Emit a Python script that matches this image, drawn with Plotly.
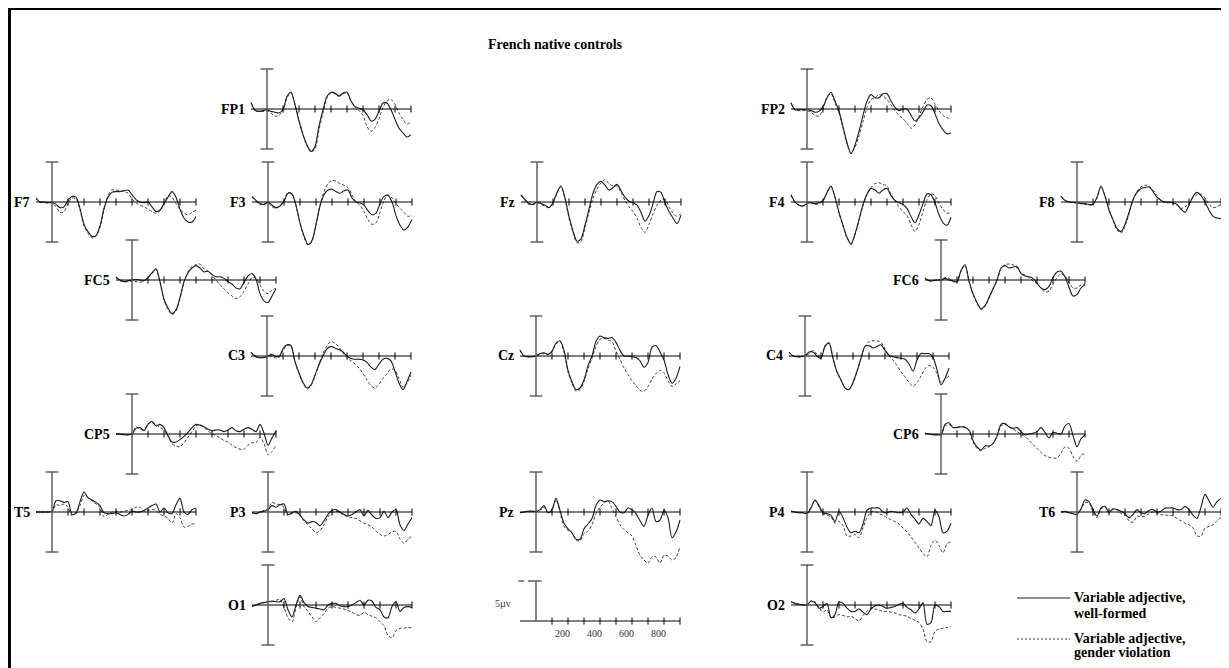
import plotly.graph_objects as go

# screen page is 1229x668; the html body has an 8px margin, so the figure is drawn 8px in
SCREEN_W, SCREEN_H = 1229, 668
OFF = 8
W, H = SCREEN_W - OFF, SCREEN_H - OFF

# time axis (ms) shared by all electrodes
TIMES = list(range(-100, 901, 25))

# amplitudes in microvolts (negative plotted up, ERP convention)
FP1_wf = [-0.8,0.15,0.3,0.2,0.1,0.3,0.4,0.5,0.1,-1.6,-2.1,-0.5,1.5,3.2,4.5,5.3,4.7,2.1,0.1,-1.6,-2.1,-2.0,-1.6,-2.0,-2.1,-1.0,-0.3,-0.1,0.1,0.7,1.5,1.3,0.3,-0.75,-0.75,0.1,1.3,2.4,3.0,3.5,3.2]
FP1_gv = [-0.8,0.1,0.3,0.3,0.2,0.5,0.9,0.8,0.2,-1.4,-2.0,-0.6,1.4,3.2,4.6,5.4,5.0,2.6,0.5,-1.4,-2.0,-1.9,-1.7,-1.9,-2.0,-1.0,-0.3,0.2,0.8,2.2,2.8,2.3,1.2,-0.2,-1.0,-1.2,-0.6,0.5,1.3,1.9,1.6]
FP2_wf = [-0.8,0.1,0.1,0.1,0.1,0.2,0.4,0.3,-0.3,-1.4,-2.1,-1.0,0.3,2.2,4.2,5.6,4.5,2.8,0.8,-1.0,-1.8,-1.4,-1.4,-1.9,-1.9,-1.0,-0.2,0.2,0.0,0.0,0.8,1.5,1.1,0.4,-0.5,-0.4,0.6,1.8,2.6,3.1,3.0]
FP2_gv = [-0.7,0.1,0.2,0.2,0.2,0.4,0.8,0.9,0.0,-1.5,-1.9,-0.8,0.5,2.4,4.4,5.5,4.8,3.3,1.6,-0.2,-1.2,-1.4,-1.8,-1.6,-1.2,-0.5,0.2,0.8,1.2,1.8,2.4,2.0,0.9,-0.3,-1.2,-1.4,-0.6,0.2,0.8,1.1,1.2]
F7_wf = [-0.5,0.0,0.0,0.1,0.05,0.3,0.7,0.6,-0.2,-0.7,-0.6,0.8,2.8,3.7,4.3,4.2,3.0,0.8,-0.6,-1.2,-1.3,-1.3,-1.4,-1.5,-0.9,-0.3,0.0,0.1,0.0,0.6,1.2,1.0,0.2,-0.6,-1.3,-0.6,0.9,2.0,2.5,2.5,1.8]
F7_gv = [-0.4,0.0,0.1,0.1,0.1,0.6,1.3,1.2,0.2,-0.5,-0.4,1.0,3.0,3.9,4.5,4.3,3.2,1.0,-0.8,-1.5,-1.5,-1.4,-1.3,-1.1,-0.4,0.1,0.4,0.6,0.9,1.2,1.4,1.1,0.2,-0.8,-0.6,0.2,0.9,1.4,1.6,1.3,1.0]
F3_wf = [-0.7,-0.2,0.2,0.3,0.0,0.4,0.7,0.5,-0.1,-1.1,-1.0,0.4,2.6,4.2,5.3,4.8,2.8,0.5,-0.9,-1.5,-1.6,-1.3,-1.1,-1.4,-1.5,-0.5,0.0,0.1,0.4,1.1,1.6,1.4,0.2,-0.7,-0.8,0.0,1.7,2.9,3.5,3.1,2.2]
F3_gv = [-0.6,-0.1,0.3,0.3,0.1,0.6,0.8,0.5,-0.2,-1.2,-1.0,0.5,2.7,4.4,5.4,4.9,2.9,0.4,-1.3,-2.3,-2.7,-2.6,-2.3,-2.1,-1.8,-0.9,0.0,0.4,1.2,2.2,2.8,2.6,1.3,-0.2,-0.9,-0.5,0.2,0.8,1.3,1.8,1.6]
Fz_wf = [-0.9,-0.3,0.2,0.3,0.0,0.2,0.4,0.7,0.1,-1.2,-2.0,-0.5,1.8,3.6,4.9,4.6,2.9,0.9,-1.1,-2.2,-2.6,-2.1,-1.5,-1.8,-2.2,-1.4,-0.6,-0.1,0.1,0.4,1.3,2.4,1.7,0.2,-1.3,-1.2,0.1,1.2,2.0,2.7,1.6]
Fz_gv = [-0.8,-0.2,0.3,0.3,0.1,0.3,0.5,0.7,0.1,-1.1,-1.9,-0.4,2.0,3.8,5.1,4.9,3.2,1.3,-0.5,-1.6,-2.4,-2.8,-2.3,-2.0,-2.0,-1.2,-0.2,0.6,1.2,2.0,3.2,3.8,2.8,1.5,0.4,-0.2,-0.3,0.6,1.4,1.8,1.4]
F4_wf = [-0.9,0.0,0.4,0.5,0.2,0.1,0.2,0.1,-0.2,-1.2,-2.0,-0.6,1.3,2.9,4.4,5.3,4.0,2.2,0.3,-1.0,-1.7,-1.5,-1.1,-1.5,-1.7,-0.8,-0.2,0.1,0.3,0.8,1.8,2.6,1.6,0.2,-1.0,-0.9,0.1,1.6,2.6,2.9,1.9]
F4_gv = [-0.8,0.0,0.4,0.5,0.2,0.1,0.3,0.2,-0.1,-1.1,-1.9,-0.5,1.4,3.0,4.5,5.2,4.1,2.3,0.5,-0.9,-1.8,-2.3,-2.4,-2.2,-2.0,-1.0,-0.1,0.6,1.2,1.7,2.8,3.7,2.8,1.2,-0.3,-1.0,-0.8,0.2,0.9,1.4,1.3]
F8_wf = [-0.7,-0.2,0.0,0.05,0.1,0.2,0.2,0.3,0.3,-0.6,-2.0,-0.7,1.0,2.2,3.3,3.7,2.8,1.3,-0.3,-1.2,-1.7,-1.8,-1.9,-1.3,-0.6,-0.2,0.0,0.0,0.1,0.3,0.9,1.3,0.4,-0.7,-1.2,-0.8,0.0,1.0,1.8,2.0,2.1]
F8_gv = [-0.7,-0.2,0.0,0.1,0.1,0.2,0.3,0.4,0.3,-0.5,-1.9,-0.8,0.9,2.3,3.5,3.9,3.0,1.5,-0.2,-1.3,-1.9,-2.1,-2.0,-1.5,-0.8,-0.2,0.1,0.1,0.2,0.4,0.8,0.6,0.2,-0.5,-0.9,-1.0,-0.5,0.3,0.7,0.6,0.3]
FC5_wf = [-0.4,0.0,0.2,0.1,0.0,-0.1,0.0,0.1,-0.3,-0.9,-1.4,0.2,2.4,3.5,4.2,3.7,2.2,0.2,-0.9,-1.5,-1.8,-1.5,-1.0,-1.1,-0.7,-0.4,-0.4,-0.2,0.2,0.5,1.0,1.1,0.3,-0.5,-0.8,-0.1,1.7,2.6,2.8,2.0,1.1]
FC5_gv = [-0.3,0.1,0.2,0.2,0.1,0.2,0.3,0.1,-0.3,-0.8,-1.3,0.3,2.5,3.7,4.3,3.9,2.3,0.3,-1.0,-1.7,-1.9,-2.0,-1.4,-1.1,-0.6,0.0,0.6,1.1,1.6,2.0,2.3,2.1,1.4,0.5,-0.3,-0.2,0.6,1.4,1.7,1.3,1.0]
FC6_wf = [-0.2,0.1,0.1,0.0,0.0,-0.2,0.0,0.1,0.2,-1.2,-1.9,0.1,1.7,2.8,3.6,3.2,2.2,1.1,0.0,-1.5,-1.8,-1.5,-1.6,-1.7,-0.8,-0.5,-0.4,-0.2,0.4,1.0,1.2,0.8,-0.3,-1.0,-1.1,-0.4,0.9,2.0,1.8,1.0,0.6]
FC6_gv = [-0.3,0.1,0.1,0.0,0.0,-0.3,-0.2,0.2,0.3,-1.1,-1.8,0.2,1.8,2.9,3.7,3.3,2.3,1.2,0.1,-1.4,-1.9,-2.0,-1.9,-1.5,-0.9,-0.6,-0.3,0.1,0.5,1.0,1.5,1.4,0.5,-0.3,-0.8,-0.5,0.3,1.0,1.0,0.6,0.5]
C3_wf = [-0.5,0.0,0.2,0.2,0.1,-0.2,0.0,0.1,-0.9,-1.4,-1.3,0.7,2.1,3.3,4.0,3.6,2.4,1.1,0.0,-0.9,-1.2,-1.0,-0.8,-0.5,0.0,0.3,0.4,0.4,0.5,0.8,1.4,1.7,1.0,0.4,0.3,0.6,1.9,3.4,4.2,3.2,2.0]
C3_gv = [-0.4,0.1,0.2,0.2,0.1,0.0,0.2,0.2,-0.7,-1.3,-1.2,0.8,2.2,3.4,4.1,3.7,2.5,1.0,-0.3,-1.3,-1.8,-1.6,-1.1,-0.4,0.2,0.6,1.0,1.5,2.2,3.0,3.7,4.0,3.5,2.8,2.2,1.6,1.8,2.8,3.9,3.4,2.4]
Cz_wf = [-0.75,0.0,0.1,0.1,0.0,-0.3,-0.4,-0.2,-0.6,-1.6,-1.9,-0.7,1.8,3.2,4.2,4.0,3.0,1.2,0.0,-1.8,-2.5,-2.3,-2.2,-2.3,-1.7,-0.7,0.0,0.0,0.1,0.2,0.6,1.4,0.8,-1.1,-1.3,-0.5,0.5,2.3,3.4,2.8,1.3]
Cz_gv = [-0.7,0.0,0.1,0.1,0.0,-0.2,-0.3,-0.2,-0.5,-1.5,-1.8,-0.5,2.0,3.4,4.4,4.2,3.2,1.6,0.3,-1.2,-2.1,-2.2,-2.0,-1.8,-0.6,0.4,1.5,2.3,3.1,3.7,4.3,4.4,3.8,2.9,2.2,1.8,2.1,3.1,3.8,3.5,3.1]
C4_wf = [-0.5,0.0,0.1,0.1,0.0,-0.5,-0.5,0.0,0.3,-1.2,-1.6,0.3,2.0,3.0,4.0,4.2,3.3,1.9,0.3,-1.2,-1.3,-1.0,-1.2,-1.4,-0.7,-0.1,0.1,0.2,0.3,0.4,1.0,1.9,0.5,-0.3,-0.3,-0.3,0.2,1.7,3.6,2.8,1.5]
C4_gv = [-0.5,0.0,0.1,0.1,0.0,-0.3,-0.7,-0.2,0.2,-1.3,-1.7,0.3,2.0,3.0,4.0,4.2,3.4,2.0,0.3,-1.2,-1.8,-1.9,-1.9,-1.7,-0.9,0.0,0.5,1.2,2.0,2.6,3.3,3.8,3.3,2.5,1.6,1.2,1.4,2.2,3.3,2.9,2.5]
CP5_wf = [0.0,0.0,0.1,0.1,0.0,-0.7,-0.8,-0.4,-1.2,-1.6,-1.0,-1.2,-0.8,0.2,1.0,1.0,0.7,0.3,-0.2,-0.8,-1.2,-1.1,-0.9,-0.6,-0.4,-0.5,-0.5,-0.3,-0.5,-0.8,-0.4,-0.3,-0.6,-0.8,-0.6,-0.3,-1.2,-0.1,1.4,0.5,-0.4]
CP5_gv = [0.0,0.0,0.1,0.1,0.0,-0.9,-0.6,-0.5,-1.3,-1.4,-1.2,-0.8,-0.5,0.3,1.2,1.5,1.6,1.1,0.4,-0.3,-1.0,-1.2,-0.8,-0.4,0.0,0.2,0.5,0.8,1.0,1.4,1.7,1.9,1.9,1.4,1.1,1.1,0.4,1.2,2.6,2.2,1.4]
CP6_wf = [-0.1,0.0,0.1,0.1,0.1,-1.2,-1.4,-0.8,-0.8,-0.9,-0.8,-0.5,0.8,1.6,2.0,1.5,1.5,1.2,0.3,-1.2,-1.3,-0.9,-0.7,-0.8,-0.3,0.1,0.0,-0.1,-0.3,-0.8,-0.2,0.5,-0.2,-0.1,0.0,-1.0,-1.3,0.2,1.6,0.6,0.1]
CP6_gv = [-0.1,0.0,0.1,0.1,0.1,-1.0,-1.2,-0.8,-0.9,-0.9,-0.9,-0.4,1.0,1.8,2.1,1.8,1.6,1.2,0.2,-1.0,-1.2,-0.9,-0.6,-0.3,0.0,0.3,0.8,1.3,1.8,2.3,2.7,2.9,3.0,3.0,2.4,1.6,1.8,2.8,3.4,2.7,2.4]
T5_wf = [0.0,0.0,0.0,0.0,-0.1,-1.4,-1.4,-1.2,-1.3,0.3,0.2,-1.3,-2.5,-1.8,-1.5,-1.2,-0.8,0.1,0.2,0.2,0.1,0.3,0.5,0.3,-0.1,0.0,0.0,-0.2,-0.5,-0.8,-1.0,0.0,-0.5,0.1,0.2,-0.9,-1.7,0.0,0.3,-0.3,-0.5]
T5_gv = [0.0,0.0,0.0,0.0,0.0,-0.9,-0.8,-1.0,-0.6,0.5,0.0,-0.8,-2.1,-1.8,-1.4,-1.0,-0.6,0.6,0.3,0.0,-0.1,0.0,-0.1,-0.2,-0.3,-0.6,-0.6,-0.1,-0.2,-0.3,-0.2,0.3,0.5,0.8,1.4,0.2,0.7,1.9,1.8,1.5,1.5]
P3_wf = [0.1,0.2,0.0,-0.1,-0.3,-0.8,-0.6,-0.9,-1.0,0.3,0.1,-0.1,0.4,1.0,1.4,1.2,1.3,1.7,1.1,0.3,-0.2,-0.3,0.0,0.3,0.5,0.3,0.0,-0.3,0.5,-0.2,0.4,0.8,0.7,-0.1,0.7,0.0,-0.3,1.6,2.3,1.5,0.7]
P3_gv = [0.1,0.2,0.0,-0.2,-0.4,-1.2,-1.0,-0.9,-0.6,0.5,0.2,0.1,0.4,1.1,1.6,2.1,2.6,2.3,1.6,0.6,0.1,-0.1,0.1,0.4,0.6,0.7,0.8,1.1,1.4,1.6,1.9,2.4,2.8,3.0,2.8,2.5,2.4,3.4,3.9,3.4,3.0]
Pz_wf = [0.1,0.0,-0.1,-0.1,-0.1,-0.3,-0.8,0.1,-0.3,-1.7,-0.2,1.4,2.1,2.6,3.4,3.4,2.1,1.5,0.8,-0.8,-1.5,-1.3,-1.4,-1.3,-0.7,0.0,0.1,-0.5,-0.3,0.2,1.1,1.8,0.4,-0.5,1.2,1.0,-0.2,0.7,3.2,2.5,1.0]
Pz_gv = [0.1,0.0,-0.1,-0.1,0.0,-0.2,-0.6,0.1,-0.2,-1.5,0.0,1.8,2.3,2.6,3.5,3.6,2.7,2.4,1.6,0.2,-0.6,-1.1,-1.4,-0.4,0.6,1.6,2.2,2.6,3.0,4.2,5.4,6.0,6.4,5.6,5.6,6.4,5.4,5.5,6.0,5.7,4.3]
P4_wf = [-0.1,0.0,0.1,0.1,0.2,-0.5,-1.5,-0.8,0.1,0.2,0.4,1.2,-0.1,0.7,1.9,2.6,2.4,2.6,1.5,-0.2,-0.5,-0.5,-0.5,0.0,0.1,-0.1,0.0,0.1,0.0,-0.5,0.3,0.9,1.5,0.8,1.2,1.7,-0.2,0.6,2.6,2.4,1.4]
P4_gv = [-0.1,0.0,0.1,0.1,0.1,-0.6,-1.4,-0.6,0.2,0.4,0.6,1.4,1.2,1.7,3.0,3.0,2.8,3.2,2.0,0.7,0.0,-0.1,0.2,0.4,0.7,1.0,1.2,1.5,2.0,2.5,3.1,3.8,4.5,5.2,5.6,4.2,3.5,4.2,5.1,4.0,3.7]
T6_wf = [0.0,-0.1,0.1,0.2,0.3,-0.4,-1.5,-1.3,-0.3,0.5,-0.5,-0.7,0.0,-0.4,-0.3,-0.1,0.2,0.7,0.3,-0.3,0.1,0.2,-0.2,-0.3,0.0,-0.1,-0.5,-0.5,-0.5,-0.3,-0.3,-0.7,-0.3,0.4,0.8,-0.6,-2.2,-1.4,-0.6,-1.3,-1.7]
T6_gv = [0.0,0.0,0.1,0.2,0.2,-0.3,-1.2,-1.1,0.0,0.7,-0.4,-0.6,0.1,-0.3,-0.3,0.2,0.4,1.1,1.3,0.5,0.6,0.5,0.2,0.0,0.1,0.3,0.4,0.4,0.5,0.8,1.1,1.4,1.6,2.0,3.0,3.0,2.0,1.8,1.6,1.1,0.7]
O1_wf = [0.2,0.0,-0.2,-0.3,-0.4,-0.5,-0.4,-0.4,-0.8,0.6,1.5,0.0,-1.2,-0.3,0.2,0.3,0.4,0.5,0.6,0.0,-0.2,-0.2,0.1,0.2,0.2,0.0,-0.3,-0.6,0.0,-0.6,-0.5,0.3,0.6,1.5,1.6,0.2,-0.4,0.8,0.3,0.2,0.3]
O1_gv = [0.2,0.0,-0.2,-0.3,-0.4,-0.4,-0.6,-0.7,0.3,1.6,2.1,0.3,-1.0,0.2,0.8,1.5,2.1,1.6,1.1,0.4,0.2,0.3,0.4,0.5,0.7,0.9,1.2,1.3,0.9,1.2,1.4,1.6,2.1,2.6,3.8,4.1,3.2,2.9,2.9,2.8,2.9]
O2_wf = [-0.4,-0.2,-0.1,0.0,0.0,-0.5,-0.3,0.4,0.2,-0.2,1.6,1.2,-0.4,-0.2,0.4,0.8,0.8,0.5,0.9,1.2,0.5,0.1,0.0,0.2,0.4,0.3,0.2,-0.1,-0.2,0.3,0.6,1.0,0.5,-0.3,2.4,2.2,0.0,0.2,0.8,0.8,0.8]
O2_gv = [-0.4,-0.2,-0.1,0.0,0.0,-0.5,-0.4,0.3,0.9,0.6,1.6,1.5,1.2,1.3,1.5,1.4,1.7,2.0,1.3,0.8,0.4,0.5,0.6,0.8,0.8,0.9,1.0,1.2,1.3,1.4,1.7,1.9,2.2,3.0,4.6,4.6,3.3,3.0,2.9,2.8,2.7]

SERIES = {
    "FP1": (FP1_wf, FP1_gv), "FP2": (FP2_wf, FP2_gv),
    "F7": (F7_wf, F7_gv), "F3": (F3_wf, F3_gv), "Fz": (Fz_wf, Fz_gv),
    "F4": (F4_wf, F4_gv), "F8": (F8_wf, F8_gv),
    "FC5": (FC5_wf, FC5_gv), "FC6": (FC6_wf, FC6_gv),
    "C3": (C3_wf, C3_gv), "Cz": (Cz_wf, Cz_gv), "C4": (C4_wf, C4_gv),
    "CP5": (CP5_wf, CP5_gv), "CP6": (CP6_wf, CP6_gv),
    "T5": (T5_wf, T5_gv), "P3": (P3_wf, P3_gv), "Pz": (Pz_wf, Pz_gv),
    "P4": (P4_wf, P4_gv), "T6": (T6_wf, T6_gv),
    "O1": (O1_wf, O1_gv), "O2": (O2_wf, O2_gv),
}
for k, (a, b) in SERIES.items():
    assert len(a) == len(TIMES) and len(b) == len(TIMES), k

TICK_MS = [100, 200, 300, 400, 500, 600, 700, 800, 900]
CAL_LABELS = [200, 400, 600, 800]
TITLE = "French native controls"
LEGEND_WF = ["Variable adjective,", "well-formed"]
LEGEND_GV = ["Variable adjective,", "gender violation"]

# panel placement in screen pixels: (electrode, axis x, baseline y)
PANELS = [
    ("FP1", 267, 109), ("FP2", 807, 109),
    ("F7", 52, 202), ("F3", 268, 202), ("Fz", 537, 202), ("F4", 807, 202), ("F8", 1077, 202),
    ("FC5", 132, 280), ("FC6", 941, 280),
    ("C3", 267, 356), ("Cz", 536, 356), ("C4", 805, 356),
    ("CP5", 132, 434), ("CP6", 941, 434),
    ("T5", 52, 512), ("P3", 268, 512), ("Pz", 536, 512), ("P4", 807, 512), ("T6", 1077, 512),
    ("O1", 268, 605), ("O2", 807, 605),
]
CAL_POS = (536, 621)

PX_PER_MS = 0.16
PX_PER_UV = 8.0
XR = [-112, 912]
YLIM = 7.5

SOLID_C = "#1c1c1c"
DASH_C = "#404040"
AXIS_C = "#555555"
SERIF = "Liberation Serif"


def fx(px):
    return min(max((px - OFF) / W, 0.0), 1.0)


def fy(py):
    return min(max(1 - (py - OFF) / H, 0.0), 1.0)


fig = go.Figure()
shapes = []
annotations = []
axes_layout = {}


def make_axes(n, x0, y0, y_down=YLIM, y_up=YLIM):
    xa = "xaxis" if n == 1 else f"xaxis{n}"
    ya = "yaxis" if n == 1 else f"yaxis{n}"
    xr = "x" if n == 1 else f"x{n}"
    yr = "y" if n == 1 else f"y{n}"
    left = x0 + XR[0] * PX_PER_MS
    right = x0 + XR[1] * PX_PER_MS
    top = y0 - y_up * PX_PER_UV
    bottom = y0 + y_down * PX_PER_UV
    axes_layout[xa] = dict(domain=[fx(left), fx(right)], range=XR, visible=False,
                           fixedrange=True, anchor=yr)
    axes_layout[ya] = dict(domain=[fy(bottom), fy(top)], range=[y_down, -y_up],
                           visible=False, fixedrange=True, anchor=xr)
    return xr, yr


def line(xr, yr, x0, y0, x1, y1, color="black", width=1, dash=None):
    d = dict(type="line", xref=xr, yref=yr, x0=x0, y0=y0, x1=x1, y1=y1,
             line=dict(color=color, width=width), layer="above")
    if dash:
        d["line"]["dash"] = dash
    shapes.append(d)


def ticks(xr, yr, half=0.45):
    path = " ".join(f"M{t},{-half} L{t},{half}" for t in TICK_MS)
    shapes.append(dict(type="path", xref=xr, yref=yr, path=path,
                       line=dict(color="black", width=1), layer="above"))


n = 0
for name, x0, y0 in PANELS:
    n += 1
    xr, yr = make_axes(n, x0, y0)
    wf, gv = SERIES[name]
    fig.add_trace(go.Scatter(x=TIMES, y=gv, xaxis=xr, yaxis=yr, mode="lines",
                             line=dict(color=DASH_C, width=1, dash="3px,2px",
                                       shape="spline", smoothing=0.8),
                             showlegend=False, hoverinfo="skip"))
    fig.add_trace(go.Scatter(x=TIMES, y=wf, xaxis=xr, yaxis=yr, mode="lines",
                             line=dict(color=SOLID_C, width=1.1, shape="spline", smoothing=0.8),
                             showlegend=False, hoverinfo="skip"))
    line(xr, yr, -100, 0, 900, 0, "black", 1)
    line(xr, yr, 0, -5, 0, 5, AXIS_C, 1.4)
    line(xr, yr, -40, -5, 40, -5, AXIS_C, 1.4)
    line(xr, yr, -40, 5, 40, 5, AXIS_C, 1.4)
    ticks(xr, yr)
    annotations.append(dict(x=fx(x0 - 20), y=fy(y0), xref="paper", yref="paper",
                            text=f"<b>{name}</b>", showarrow=False, xanchor="right",
                            yanchor="middle", font=dict(family=SERIF, size=14, color="black")))

# calibration panel
n += 1
cx, cy = CAL_POS
xr, yr = make_axes(n, cx, cy, y_down=4.5, y_up=6.5)
line(xr, yr, -100, 0, 900, 0, "black", 1)
line(xr, yr, 0, 0, 0, -5, AXIS_C, 1.4)
line(xr, yr, -50, -5, 35, -5, AXIS_C, 1.4)
line(xr, yr, -110, -5, -75, -5, AXIS_C, 1.4)
ticks(xr, yr)
for v in CAL_LABELS:
    annotations.append(dict(x=v, y=0, xref=xr, yref=yr, text=str(v), showarrow=False,
                            xanchor="center", yanchor="middle", xshift=-6, yshift=-12,
                            font=dict(family=SERIF, size=10, color="#333")))
annotations.append(dict(x=fx(503), y=fy(603), xref="paper", yref="paper", text="5\u00b5v",
                        showarrow=False, xanchor="center", yanchor="middle",
                        font=dict(family=SERIF, size=10, color="#333")))

# title
annotations.append(dict(x=fx(555), y=fy(44), xref="paper", yref="paper",
                        text=f"<b>{TITLE}</b>", showarrow=False, xanchor="center",
                        yanchor="middle", font=dict(family=SERIF, size=14, color="black")))

# legend (manual, to match the original placement)
shapes.append(dict(type="line", xref="paper", yref="paper", x0=fx(1017), x1=fx(1070),
                   y0=fy(598), y1=fy(598), line=dict(color=SOLID_C, width=1.1)))
shapes.append(dict(type="line", xref="paper", yref="paper", x0=fx(1017), x1=fx(1070),
                   y0=fy(639), y1=fy(639), line=dict(color=DASH_C, width=1, dash="2px,2px")))
for txt, ypx in [(LEGEND_WF[0], 597), (LEGEND_WF[1], 613), (LEGEND_GV[0], 638), (LEGEND_GV[1], 652)]:
    annotations.append(dict(x=fx(1072), y=fy(ypx), xref="paper", yref="paper",
                            text=f"<b>{txt}</b>", showarrow=False, xanchor="left",
                            yanchor="middle", font=dict(family=SERIF, size=14, color="black")))

# page frame
shapes.append(dict(type="rect", xref="paper", yref="paper", x0=fx(8), x1=fx(11),
                   y0=0, y1=fy(8), fillcolor="black", line=dict(width=0)))
shapes.append(dict(type="rect", xref="paper", yref="paper", x0=fx(8), x1=fx(1228),
                   y0=fy(10), y1=fy(8), fillcolor="black", line=dict(width=0)))
shapes.append(dict(type="rect", xref="paper", yref="paper", x0=fx(1225), x1=fx(1227.5),
                   y0=0, y1=fy(8), fillcolor="black", line=dict(width=0)))

fig.update_layout(
    width=W, height=H, margin=dict(l=0, r=0, t=0, b=0),
    paper_bgcolor="white", plot_bgcolor="rgba(0,0,0,0)",
    showlegend=False, shapes=shapes, annotations=annotations,
    **axes_layout,
)

fig.write_html("out.html")
